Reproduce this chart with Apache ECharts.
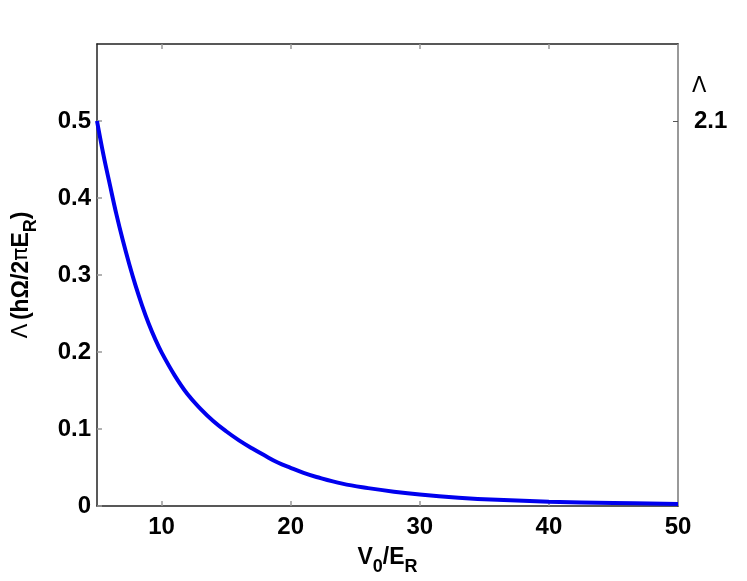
<!DOCTYPE html>
<html>
<head>
<meta charset="utf-8">
<script src="https://cdn.jsdelivr.net/npm/echarts@6/dist/echarts.min.js"></script>
<style>html,body{margin:0;padding:0;background:#fff}#c{width:747px;height:581px}</style>
</head>
<body>
<div id="c"></div>
<script>
const xValues = [5, 5.5, 6, 6.5, 7, 7.5, 8, 8.5, 9, 9.5, 10, 11, 12, 13, 14, 15, 16, 17, 18, 19, 20, 21, 22, 24, 26, 28, 30, 33, 36, 40, 45, 50];
const yValues = [0.500, 0.456, 0.417, 0.379, 0.345, 0.314, 0.2855, 0.260, 0.237, 0.217, 0.1995, 0.170, 0.1454, 0.1266, 0.1105, 0.0971, 0.0853, 0.0750, 0.0655, 0.0565, 0.0495, 0.0430, 0.0377, 0.0290, 0.0232, 0.0185, 0.0148, 0.0108, 0.0080, 0.0056, 0.0039, 0.0026];
const xTicks = [10, 20, 30, 40, 50];
const yTicks = [0, 0.1, 0.2, 0.3, 0.4, 0.5];
const rightTicks = [2.1];

const chart = echarts.init(document.getElementById('c'), null, {renderer: 'canvas'});
const lblFont = {fontFamily: 'Liberation Sans, Arial, sans-serif', fontWeight: 'bold', fontSize: 24, color: '#000'};
chart.setOption({
  animation: false,
  backgroundColor: '#fff',
  grid: {left: 97, right: 69, top: 44, bottom: 75, containLabel: false, outerBoundsMode: 'none'},
  xAxis: [{
    type: 'value', min: 5, max: 50, position: 'bottom',
    axisLine: {show: true, onZero: false, lineStyle: {color: '#222', width: 1.5}},
    axisTick: {show: true, inside: true, length: 5, lineStyle: {color: '#999', width: 1.5}, customValues: xTicks},
    axisLabel: Object.assign({margin: 9, customValues: xTicks}, lblFont),
    splitLine: {show: false},
    name: '{b|V}{sub|0}{b|/E}{sub|R}',
    nameLocation: 'middle', nameGap: 40,
    nameTextStyle: {rich: {
      b: {fontFamily: 'Liberation Sans, Arial, sans-serif', fontWeight: 'bold', fontSize: 23, color: '#000', verticalAlign: 'top'},
      sub: {fontFamily: 'Liberation Sans, Arial, sans-serif', fontWeight: 'bold', fontSize: 18, color: '#000', verticalAlign: 'bottom', padding: [12,0,0,0]}
    }}
  }, {
    type: 'value', min: 5, max: 50, position: 'top',
    axisLine: {show: true, onZero: false, lineStyle: {color: '#222', width: 1.5}},
    axisTick: {show: true, inside: true, length: 5, lineStyle: {color: '#999', width: 1.5}, customValues: xTicks},
    axisLabel: {show: false},
    splitLine: {show: false}
  }],
  yAxis: [{
    type: 'value', min: 0, max: 0.6, position: 'left',
    axisLine: {show: true, onZero: false, lineStyle: {color: '#222', width: 1.5}},
    axisTick: {show: true, inside: true, length: 5, lineStyle: {color: '#999', width: 1.5}, customValues: yTicks},
    axisLabel: Object.assign({margin: 6, customValues: yTicks}, lblFont),
    splitLine: {show: false},
    name: '{s|Λ} {b|(hΩ/2}{s|π}{b|E}{sub|R}{b|)}',
    nameLocation: 'middle', nameGap: 57, nameRotate: 90,
    nameTextStyle: {rich: {
      b: {fontFamily: 'Liberation Sans, Arial, sans-serif', fontWeight: 'bold', fontSize: 23, color: '#000', verticalAlign: 'top'},
      s: {fontFamily: 'DejaVu Sans, sans-serif', fontWeight: 'normal', fontSize: 22, color: '#000', verticalAlign: 'top'},
      sub: {fontFamily: 'Liberation Sans, Arial, sans-serif', fontWeight: 'bold', fontSize: 18, color: '#000', verticalAlign: 'bottom', padding: [12,0,0,0]}
    }}
  }, {
    type: 'value', min: 0, max: 2.52, position: 'right',
    axisLine: {show: true, onZero: false, lineStyle: {color: '#999', width: 2}},
    axisTick: {show: true, inside: true, length: 5, lineStyle: {color: '#555', width: 1}, customValues: rightTicks},
    axisLabel: Object.assign({margin: 16, customValues: rightTicks}, lblFont),
    splitLine: {show: false},
    name: 'Λ', nameLocation: 'end', nameGap: -53,
    nameTextStyle: {fontFamily: 'DejaVu Sans, sans-serif', fontSize: 21, color: '#000', align: 'left', padding: [0,0,0,14]}
  }],
  series: [{
    type: 'line', xAxisIndex: 0, yAxisIndex: 0,
    data: xValues.map((x, i) => [x, yValues[i]]),
    smooth: 0.4, showSymbol: false,
    lineStyle: {color: '#0000ee', width: 4},
    clip: true
  }]
});
</script>
</body>
</html>
